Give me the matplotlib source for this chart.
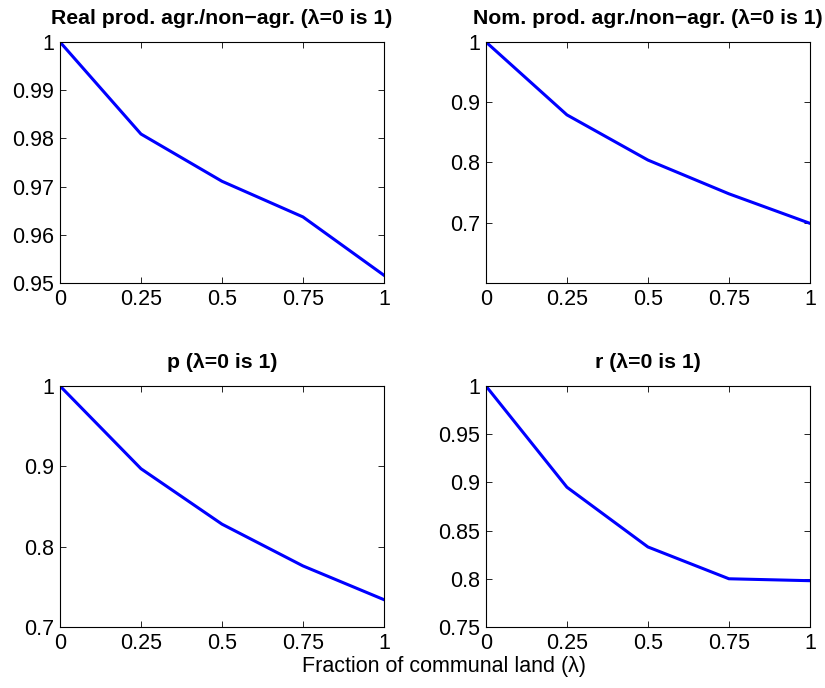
import matplotlib
matplotlib.use("Agg")
import matplotlib.pyplot as plt
from matplotlib.ticker import FuncFormatter

plt.rcParams['font.family'] = ['Liberation Sans', 'DejaVu Sans']

lam = [0, 0.25, 0.5, 0.75, 1]

real_prod = [1.0, 0.9809, 0.9711, 0.9637, 0.9516]
nom_prod = [1.0, 0.879, 0.804, 0.748, 0.699]
p_rel = [1.0, 0.897, 0.828, 0.776, 0.734]
r_rel = [1.0, 0.895, 0.833, 0.800, 0.798]

titles = ["Real prod. agr./non\u2212agr. (\u03bb=0 is 1)",
          "Nom. prod. agr./non\u2212agr. (\u03bb=0 is 1)",
          "p (\u03bb=0 is 1)",
          "r (\u03bb=0 is 1)"]
series = [real_prod, nom_prod, p_rel, r_rel]
ylims = [(0.95, 1), (0.6, 1), (0.7, 1), (0.75, 1)]
yticks = [[0.95, 0.96, 0.97, 0.98, 0.99, 1],
          [0.7, 0.8, 0.9, 1],
          [0.7, 0.8, 0.9, 1],
          [0.75, 0.8, 0.85, 0.9, 0.95, 1]]

# axes boxes in figure fractions
boxes = [[0.0727, 0.5887, 0.3927, 0.3503],
         [0.589, 0.5887, 0.3927, 0.3503],
         [0.0727, 0.0887, 0.3927, 0.3503],
         [0.589, 0.0887, 0.3927, 0.3503]]

fmt = FuncFormatter(lambda v, pos: "%g" % round(v, 4))

fig = plt.figure(figsize=(8.25, 6.88), dpi=100)
for i in range(4):
    ax = fig.add_axes(boxes[i])
    ax.plot(lam, series[i], color='#0000ff', lw=2.2)
    ax.set_xlim(0, 1)
    ax.set_ylim(*ylims[i])
    ax.set_xticks(lam)
    ax.set_yticks(yticks[i])
    ax.xaxis.set_major_formatter(fmt)
    ax.yaxis.set_major_formatter(fmt)
    ax.tick_params(direction='in', top=True, right=True, labelsize=15.5,
                   length=4, width=0.6, pad=4)
    for s in ax.spines.values():
        s.set_linewidth(0.8)
    ax.set_title(titles[i], fontsize=15.3, fontweight='bold', pad=13)

fig.text(0.538, 0.016, "Fraction of communal land (\u03bb)", ha='center',
         va='bottom', fontsize=15.5)

fig.savefig("out.png", dpi=100)
